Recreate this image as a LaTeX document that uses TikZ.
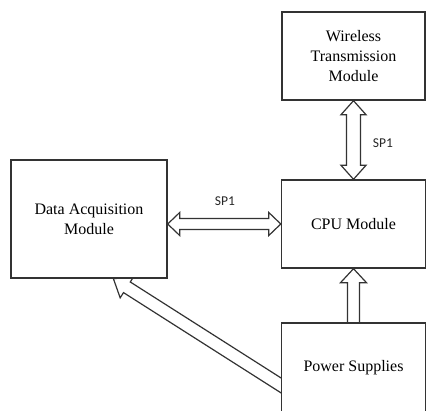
\documentclass[tikz,border=0pt]{standalone}
\usepackage{fontspec}
\setmainfont{Liberation Serif}
\newfontfamily\sfc{Carlito}
\usetikzlibrary{calc}
\pgfdeclarelayer{bg}
\pgfsetlayers{bg,main}
\definecolor{linec}{gray}{0.2}
\newcommand\dblarrow[5]{%
 \draw[arrowline] (#1) -- ($(#1)!#3!(#2)!#4!90:(#2)$) -- ($(#1)!#3!(#2)!#5!90:(#2)$)
  -- ($(#2)!#3!(#1)!#5!-90:(#1)$) -- ($(#2)!#3!(#1)!#4!-90:(#1)$) -- (#2)
  -- ($(#2)!#3!(#1)!#4!90:(#1)$) -- ($(#2)!#3!(#1)!#5!90:(#1)$)
  -- ($(#1)!#3!(#2)!#5!-90:(#2)$) -- ($(#1)!#3!(#2)!#4!-90:(#2)$) -- cycle;}
\newcommand\sglarrow[5]{%
 \draw[arrowline] (#2) -- ($(#2)!#3!(#1)!#4!90:(#1)$) -- ($(#2)!#3!(#1)!#5!90:(#1)$)
  -- ($(#1)!#5!-90:(#2)$) -- ($(#1)!#5!90:(#2)$)
  -- ($(#2)!#3!(#1)!#5!-90:(#1)$) -- ($(#2)!#3!(#1)!#4!-90:(#1)$) -- cycle;}
\begin{document}
\begin{tikzpicture}[x=1pt,y=1pt,
  box/.style={draw=linec, line width=1.4pt, fill=white, align=center, inner sep=0pt,
    font=\fontsize{16}{20}\selectfont},
  arrowline/.style={draw=linec, line width=1.2pt, line join=miter, fill=white},
  lbl/.style={font=\sfc\fontsize{13.5}{16}\selectfont, text=black!85, inner sep=0pt}]
\useasboundingbox (0,0) rectangle (426,410);
\clip (0,0) rectangle (426,410);
\node[box, minimum width=143pt, minimum height=88pt] (wire) at (353.5,354) {Wireless\\Transmission\\Module};
\node[box, minimum width=144pt, minimum height=88pt] (cpu) at (353.5,186) {CPU Module};
\node[box, minimum width=156pt, minimum height=118pt] (daq) at (89,191) {Data Acquisition\\Module};
\node[box, minimum width=144pt, minimum height=89pt] (power) at (353.5,42.5) {Power Supplies};
\coordinate (hl) at (daq.east |- cpu.west);
\coordinate (pt) at ($(cpu.south |- power.north)+(0,-5)$);
\coordinate (dtip) at ($(daq.south west)!0.655!(daq.south east)$);
\coordinate (dtail) at (292,17.6);
\begin{pgfonlayer}{bg}
\dblarrow{hl}{cpu.west}{12pt}{11.5pt}{5.5pt}
\dblarrow{wire.south}{cpu.north}{14pt}{12.5pt}{7pt}
\sglarrow{pt}{cpu.south}{14pt}{13pt}{6pt}
\sglarrow{dtail}{dtip}{16pt}{12.5pt}{6.3pt}
\end{pgfonlayer}
\node[lbl] (sph) at (225,209) {SP1};
\node[lbl] (spv) at (383,267) {SP1};
\end{tikzpicture}
\end{document}
